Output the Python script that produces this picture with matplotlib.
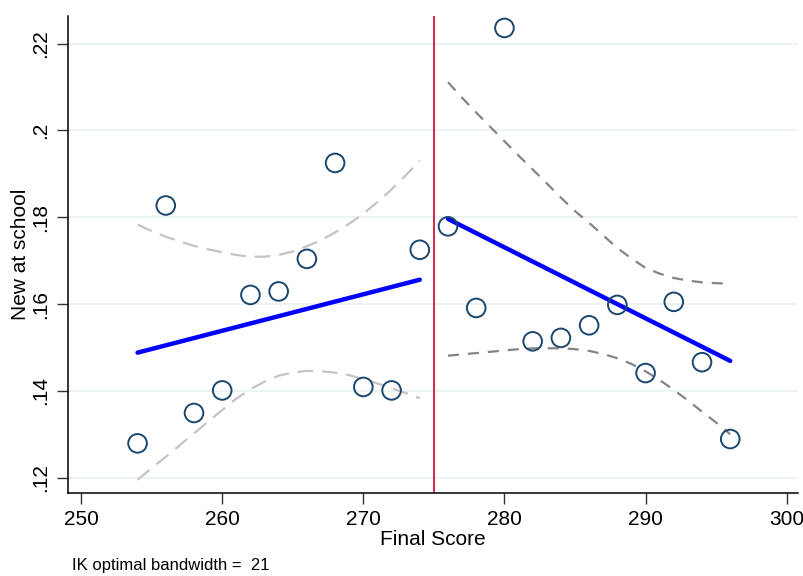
import numpy as np
import matplotlib
matplotlib.use('Agg')
import matplotlib.pyplot as plt

plt.rcParams['font.family'] = ['Liberation Sans', 'DejaVu Sans']

# binned means
bins_left = [254, 256, 258, 260, 262, 264, 266, 268, 270, 272, 274]
means_left = [0.1279, 0.1827, 0.1349, 0.1401, 0.1621, 0.1629, 0.1704, 0.1925, 0.1409, 0.1401, 0.1725]
bins_right = [276, 278, 280, 282, 284, 286, 288, 290, 292, 294, 296]
means_right = [0.1779, 0.1591, 0.2236, 0.1514, 0.1522, 0.1551, 0.1598, 0.1441, 0.1605, 0.1466, 0.1289]

# linear fits (end points)
fit_left_x = [254, 274]
fit_left_y = [0.1488, 0.1656]
fit_right_x = [276, 296]
fit_right_y = [0.1796, 0.1469]

# confidence bands
ci_left_x = [254, 255, 256, 257, 258, 259, 260, 261, 262, 263, 264,
             265, 266, 267, 268, 269, 270, 271, 272, 273, 274]
ci_left_hi = [0.1783, 0.1768, 0.1755, 0.1744, 0.1734, 0.1726, 0.1719, 0.1713, 0.1709, 0.1709, 0.1713,
              0.1721, 0.1733, 0.1747, 0.1765, 0.1785, 0.1808, 0.1835, 0.1864, 0.1896, 0.1931]
ci_left_lo = [0.1195, 0.1222, 0.1248, 0.1275, 0.1302, 0.1329, 0.1356, 0.1382, 0.1404, 0.1421, 0.1435,
              0.1442, 0.1446, 0.1445, 0.1442, 0.1436, 0.1427, 0.1417, 0.1406, 0.1395, 0.1383]
ci_right_x = [276, 277, 278, 279, 280, 281, 282, 283, 284, 285, 286,
              287, 288, 289, 290, 291, 292, 293, 294, 295, 296]
ci_right_hi = [0.2111, 0.2075, 0.2041, 0.2008, 0.1975, 0.1942, 0.1910, 0.1878, 0.1845, 0.1814, 0.1787,
               0.1758, 0.1729, 0.1705, 0.1683, 0.1670, 0.1660, 0.1654, 0.1650, 0.1648, 0.1647]
ci_right_lo = [0.1481, 0.1484, 0.1487, 0.1490, 0.1493, 0.1496, 0.1498, 0.1498, 0.1498, 0.1496, 0.1492,
               0.1485, 0.1475, 0.1462, 0.1445, 0.1425, 0.1402, 0.1378, 0.1352, 0.1327, 0.1300]

cutoff = 275
bandwidth = 21

fig = plt.figure(figsize=(8.04, 5.76), dpi=100)
ax = fig.add_axes([0.0842, 0.1436, 0.9083, 0.829])

for v in [0.12, 0.14, 0.16, 0.18, 0.20, 0.22]:
    ax.axhline(v, color='#eaf1f3', lw=1.2, zorder=0)

ax.axvline(cutoff, color='#d4163c', lw=1.3, zorder=1)

ax.plot(ci_left_x, ci_left_hi, color='#c4c4c4', lw=1.6, dashes=(7, 4), zorder=2)
ax.plot(ci_left_x, ci_left_lo, color='#c4c4c4', lw=1.6, dashes=(7, 4), zorder=2)
ax.plot(ci_right_x, ci_right_hi, color='#858585', lw=1.6, dashes=(5, 4), zorder=2)
ax.plot(ci_right_x, ci_right_lo, color='#858585', lw=1.6, dashes=(5, 4), zorder=2)

ax.plot(fit_left_x, fit_left_y, color='#0000ff', lw=3.2, solid_capstyle='round', zorder=3)
ax.plot(fit_right_x, fit_right_y, color='#0000ff', lw=3.2, solid_capstyle='round', zorder=3)

ax.scatter(bins_left, means_left, s=180, facecolors='none', edgecolors='#1a476f', linewidths=1.4, zorder=4)
ax.scatter(bins_right, means_right, s=180, facecolors='none', edgecolors='#1a476f', linewidths=1.4, zorder=4)

ax.set_xlim(249.05, 300.8)
ax.set_ylim(0.1164, 0.2264)
ax.set_xticks([250, 260, 270, 280, 290, 300])
ax.set_yticks([0.12, 0.14, 0.16, 0.18, 0.20, 0.22])
ax.set_yticklabels(['.12', '.14', '.16', '.18', '.2', '.22'], rotation=90, va='center')
ax.tick_params(axis='both', labelsize=15, length=8, width=1, color='#333333')
ax.tick_params(axis='x', pad=4)
ax.tick_params(axis='y', pad=5)

for s in ['top', 'right']:
    ax.spines[s].set_visible(False)
for s in ['left', 'bottom']:
    ax.spines[s].set_linewidth(1.1)

ax.set_xlabel('Final Score', fontsize=15, labelpad=1)
ax.set_ylabel('New at school', fontsize=15, labelpad=0.5)

fig.text(0.0895, 0.011, 'IK optimal bandwidth =  %d' % bandwidth, fontsize=12)

fig.savefig('out.png', dpi=100)
